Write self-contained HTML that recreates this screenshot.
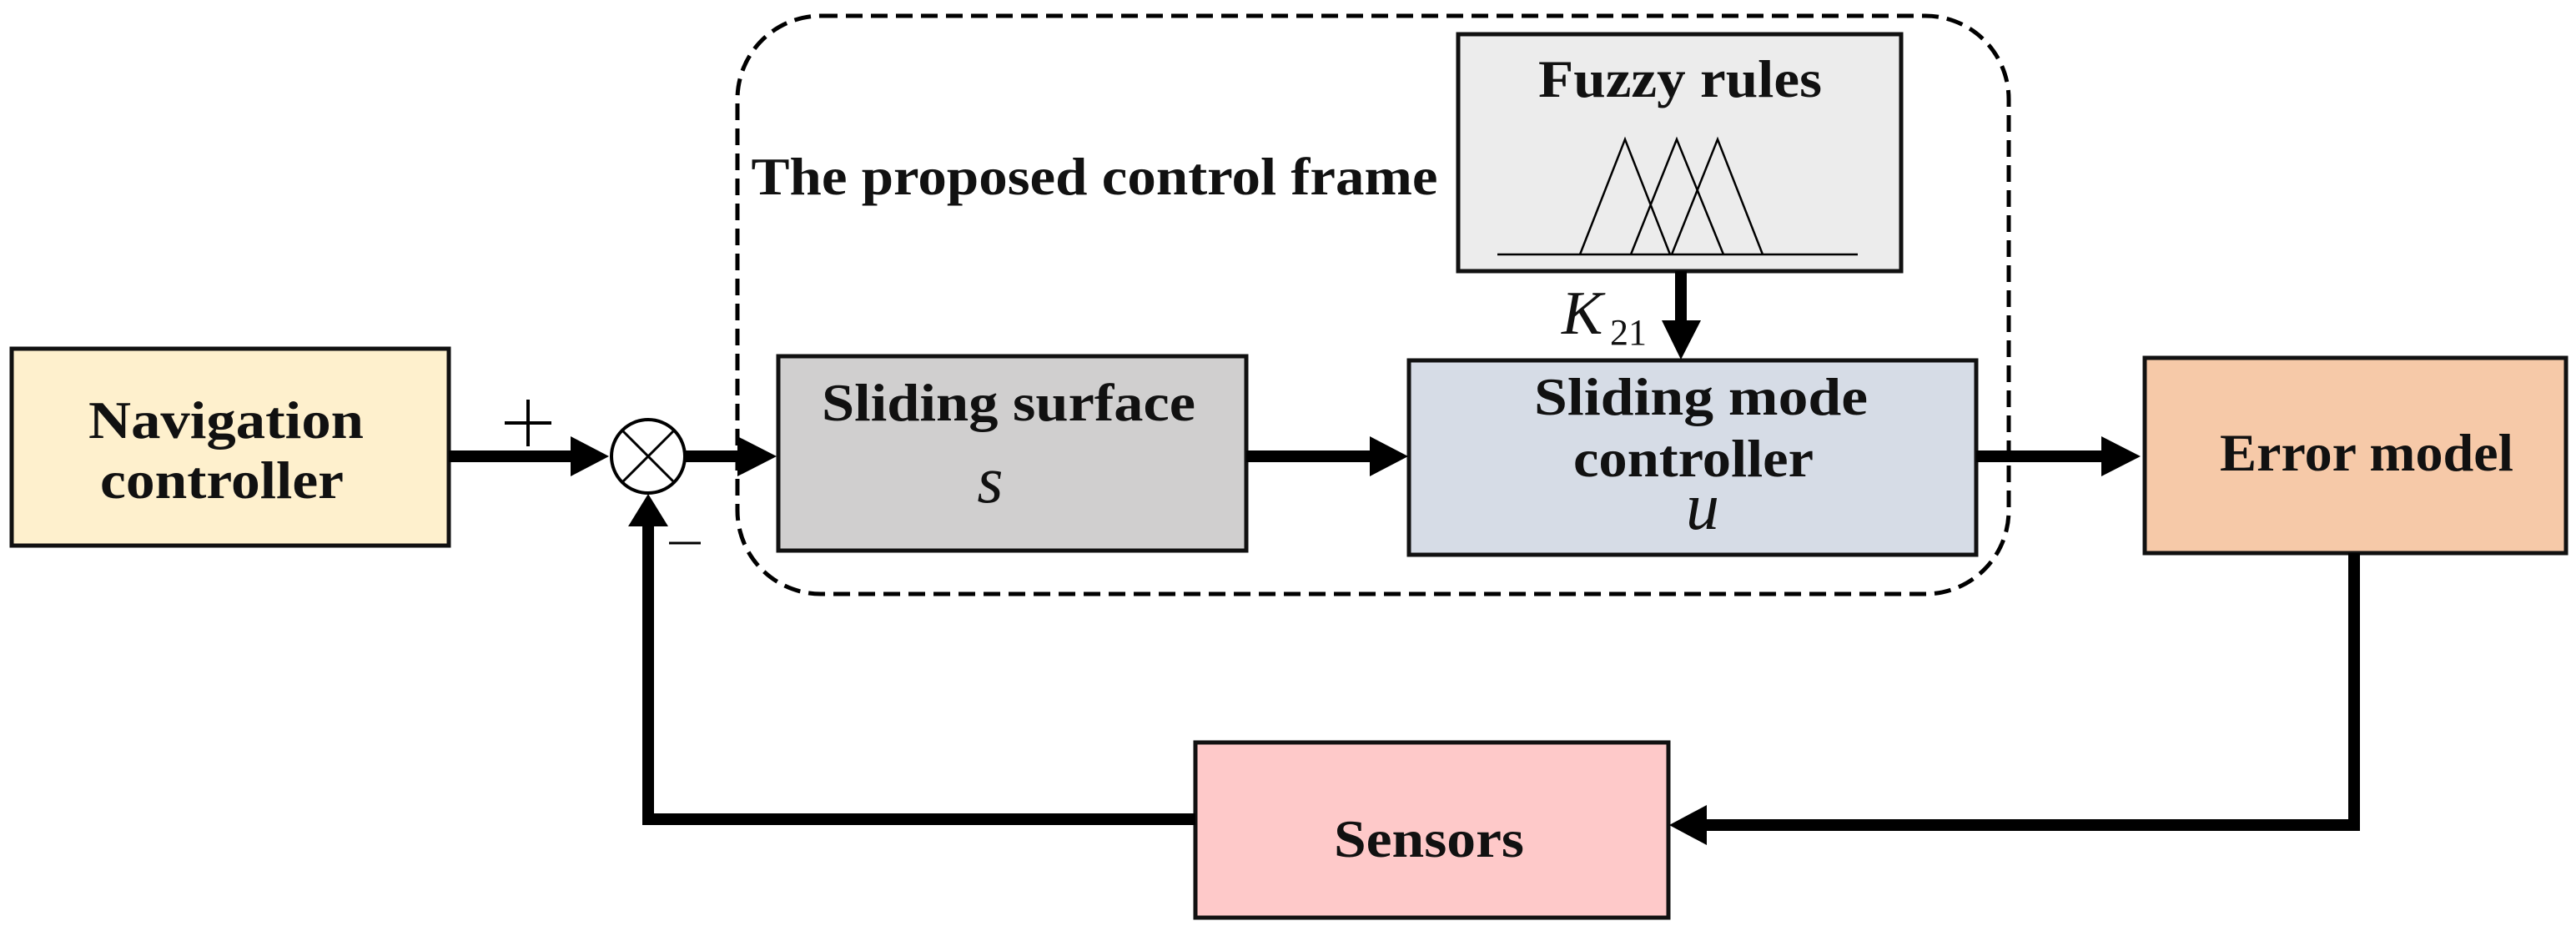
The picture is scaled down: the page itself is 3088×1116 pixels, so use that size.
<!DOCTYPE html>
<html><head><meta charset="utf-8"><style>html,body{margin:0;padding:0;background:#fff}svg{display:block}</style></head>
<body>
<svg width="3088" height="1116" viewBox="0 0 3088 1116" xmlns="http://www.w3.org/2000/svg" font-family="Liberation Serif, serif">
<!-- dashed frame -->
<rect x="884" y="19" width="1524" height="693" rx="100" ry="100" fill="none" stroke="#000" stroke-width="5" stroke-dasharray="20,10"/>
<!-- boxes -->
<rect x="14" y="418" width="524" height="236" fill="#fef0cd" stroke="#111" stroke-width="5"/>
<rect x="933" y="427" width="561" height="233" fill="#d0cfcf" stroke="#111" stroke-width="5"/>
<rect x="1689" y="432" width="680" height="233" fill="#d6dce6" stroke="#111" stroke-width="5"/>
<rect x="1748" y="41" width="531" height="284" fill="#ececec" stroke="#111" stroke-width="5"/>
<rect x="2571" y="429" width="505" height="234" fill="#f6c9a8" stroke="#111" stroke-width="5"/>
<rect x="1433" y="890" width="567" height="210" fill="#fec9c9" stroke="#111" stroke-width="5"/>
<!-- fuzzy triangles -->
<g fill="none" stroke="#000" stroke-width="2.5">
<line x1="1795" y1="305" x2="2227" y2="305"/>
<polyline points="1894,305 1948,167 2002,305"/>
<polyline points="1955,305 2010,167 2066,305"/>
<polyline points="2004,305 2059,167 2113,305"/>
</g>
<!-- connectors -->
<g stroke="#000" stroke-width="14" fill="none">
<line x1="538" y1="547" x2="690" y2="547"/>
<line x1="821" y1="547" x2="890" y2="547"/>
<line x1="1494" y1="547" x2="1648" y2="547"/>
<line x1="2369" y1="547" x2="2525" y2="547"/>
<line x1="2015" y1="325" x2="2015" y2="390"/>
<polyline points="2822,663 2822,989 2040,989"/>
<polyline points="1433,982 777,982 777,625"/>
</g>
<g fill="#000">
<polygon points="684,523 730,547 684,571"/>
<polygon points="884,523 931,547 884,571"/>
<polygon points="1642,523 1688,547 1642,571"/>
<polygon points="2519,523 2566,547 2519,571"/>
<polygon points="1992,384 2015,431 2039,384"/>
<polygon points="2046,965 2001,989 2046,1013"/>
<polygon points="753,631 777,592 801,631"/>
</g>
<!-- sum junction -->
<circle cx="777" cy="547" r="44" fill="#fff" stroke="#000" stroke-width="4"/>
<line x1="746" y1="516" x2="808" y2="578" stroke="#000" stroke-width="3"/>
<line x1="808" y1="516" x2="746" y2="578" stroke="#000" stroke-width="3"/>
<!-- signs -->
<line x1="605" y1="507" x2="661" y2="507" stroke="#000" stroke-width="4"/>
<line x1="633" y1="479" x2="633" y2="535" stroke="#000" stroke-width="4"/>
<line x1="802" y1="651" x2="840" y2="651" stroke="#000" stroke-width="3"/>
<!-- labels -->
<g font-weight="bold" font-size="64" fill="#111" text-anchor="middle">
<text x="271" y="525" textLength="330" lengthAdjust="spacingAndGlyphs">Navigation</text>
<text x="266" y="597" textLength="292" lengthAdjust="spacingAndGlyphs">controller</text>
<text x="1209" y="504" textLength="448" lengthAdjust="spacingAndGlyphs">Sliding surface</text>
<text x="2039" y="497" textLength="400" lengthAdjust="spacingAndGlyphs">Sliding mode</text>
<text x="2030" y="571" textLength="288" lengthAdjust="spacingAndGlyphs">controller</text>
<text x="2014" y="116" textLength="340" lengthAdjust="spacingAndGlyphs">Fuzzy rules</text>
<text x="2837" y="564" textLength="352" lengthAdjust="spacingAndGlyphs">Error model</text>
<text x="1713" y="1027" textLength="228" lengthAdjust="spacingAndGlyphs">Sensors</text>
<text x="1312" y="233" textLength="823" lengthAdjust="spacingAndGlyphs">The proposed control frame</text>
</g>
<g font-style="italic" fill="#111">
<text x="1187" y="602" font-size="80" text-anchor="middle">s</text>
<text x="2041" y="634" font-size="80" text-anchor="middle">u</text>
<text x="1872" y="400" font-size="74">K</text>
<text x="1930" y="413" font-size="44" font-style="normal">21</text>
</g>
</svg>
</body></html>
